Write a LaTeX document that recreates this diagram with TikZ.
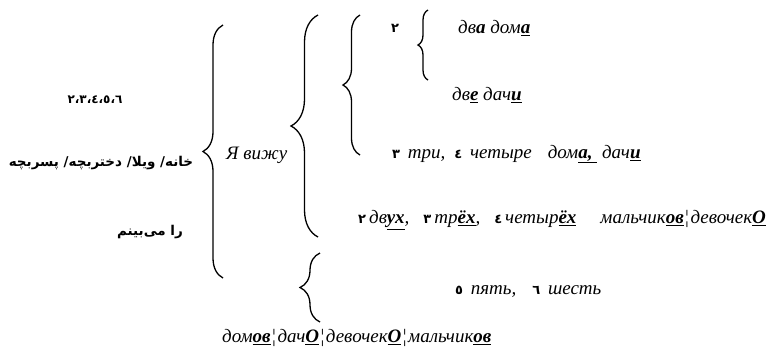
\documentclass[tikz,border=0pt]{standalone}
\usepackage{fontspec}
\setmainfont{Liberation Serif}
\newfontfamily\arabicfont[Script=Arabic]{DejaVu Sans}
\TeXXeTstate=1
\usetikzlibrary{decorations.pathreplacing}
\newcommand\hl[1]{\underline{\textbf{#1}}}
\newcommand\dg[1]{{\arabicfont\upshape\bfseries\fontsize{13}{15}\selectfont #1}\hspace{3pt}}
\newcommand\sep{\hspace{1.5pt}{\upshape¦}\hspace{1.5pt}}
\tikzset{ru/.style = {font=\itshape\fontsize{19}{22}\selectfont, inner sep=0pt, anchor=west}}
\tikzset{fa/.style = {font=\arabicfont\bfseries\fontsize{13.5}{16}\selectfont, inner sep=0pt}}
\tikzset{brc/.style = {decorate, decoration={brace, amplitude=#1}, line width=1.3pt}}

\begin{document}
\begin{tikzpicture}[x=1pt, y=1pt]
\useasboundingbox (0,0) rectangle (773,-349);
\node [fa, font=\arabicfont\bfseries\fontsize{12}{14}\selectfont] (nums) at (95,-100) {٢،٣،٤،٥،٦};
\node [fa] (words) at (101,-163) {\beginR خانه/ ویلا/ دختربچه/ پسربچه\endR};
\node [fa] (see) at (150,-232) {\beginR را می‌بینم\endR};
\node [ru] (vizhu) at (226,-155) {Я вижу};
\node [ru] (two) at (391,-28) {\dg{٢}};
\node [ru] (dva) at (458,-28) {дв\textbf{а} дом\hl{а}};
\node [ru] (dve) at (452,-95) {дв\hl{е} дач\hl{и}};
\node [ru] (tri) at (392,-154) {\dg{٣} три,\hspace{9pt}\dg{٤} четыре\hspace{16pt}дом\hl{а,\ } дач\hl{и}};
\node [ru] (dvuh) at (358,-220) {\dg{٢}дв\hl{ух},\hspace{14pt}\dg{٣}тр\hl{ёх},\hspace{14pt}\dg{٤}четыр\hl{ёх}\hspace{24pt}мальчик\hl{ов}\sep девочек\hl{О}};
\node [ru] (pyat) at (455,-291) {\dg{٥} пять,\hspace{16pt}\dg{٦} шесть};
\node [ru] (domov) at (222,-338) {дом\hl{ов}\sep дач\hl{О}\sep девочек\hl{О}\sep мальчик\hl{ов}};
\coordinate (b1t) at (223,-25);  \coordinate (b1b) at (223,-278);
\coordinate (b2t) at (318,-15);  \coordinate (b2b) at (318,-237);
\coordinate (b3t) at (360,-15);  \coordinate (b3b) at (360,-155);
\coordinate (b4t) at (320,-253); \coordinate (b4b) at (320,-322);
\coordinate (b5t) at (428,-10);  \coordinate (b5b) at (428,-80);
\draw [brc=20pt] (b1b) -- (b1t);
\draw [brc=27pt] (b2b) -- (b2t);
\draw [brc=17pt] (b3b) -- (b3t);
\draw [brc=20pt] (b4b) -- (b4t);
\draw [brc=10pt] (b5b) -- (b5t);
\end{tikzpicture}
\end{document}
